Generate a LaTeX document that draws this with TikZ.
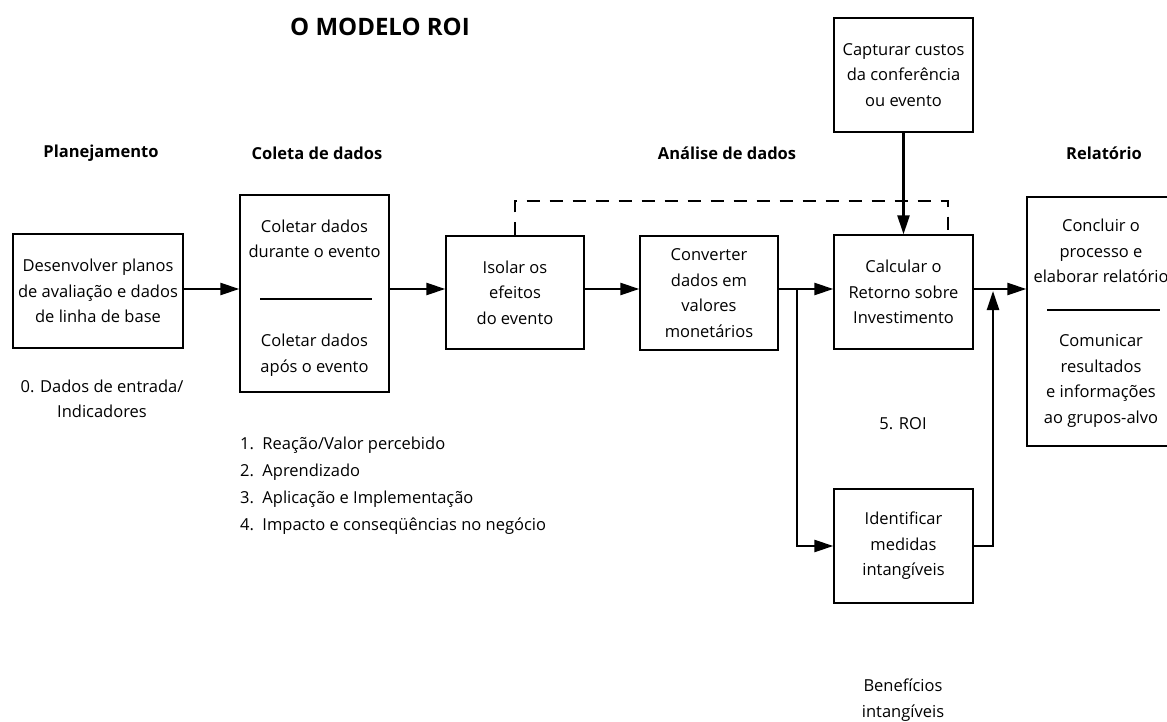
\documentclass[tikz,border=0pt]{standalone}
\usepackage{fontspec}
\setmainfont{Open Sans}
\usetikzlibrary{arrows.meta}
\begin{document}
\begin{tikzpicture}[x=1pt,y=-1pt,
  body/.style={font=\fontsize{16.5}{25.5}\selectfont, align=center, inner sep=0pt},
  hdr/.style={font=\fontsize{16.5}{20}\selectfont\bfseries, inner sep=0pt},
  box/.style={draw, line width=1.3pt, body},
  arr/.style={line width=2.4pt, -{Triangle[length=19pt,width=12pt]}},
  fbline/.style={line width=2.4pt, dash pattern=on 13pt off 10pt},
  rule/.style={line width=1.2pt}]
  \fill[white] (0,0) rectangle (1167,722);
  \useasboundingbox (0,0) rectangle (1167,722);
  \clip (0,0) rectangle (1167,722);

  % title and phase headings
  \node[font=\fontsize{24}{28}\selectfont\bfseries, inner sep=0pt] (title) at (380,27) {O MODELO ROI};
  \node[hdr] (h1) at (101,153) {Planejamento};
  \node[hdr] (h2) at (317,153) {Coleta de dados};
  \node[hdr] (h3) at (727,153) {Análise de dados};
  \node[hdr] (h4) at (1104,153) {Relatório};

  % process boxes
  \node[box, minimum width=170pt, minimum height=114pt] (plan) at (98,291)
    {Desenvolver planos\\de avaliação e dados\\de linha de base};
  \node[box, minimum width=149pt, minimum height=197pt] (coleta) at (314.5,293.5) {};
  \node[body] (c1) at (314.5,239) {Coletar dados\\durante o evento};
  \node[body] (c2) at (314.5,355) {Coletar dados\\após o evento};
  \draw[rule] (260,299) -- (372,299);
  \node[box, minimum width=138pt, minimum height=113pt] (isolar) at (515,292.5)
    {Isolar os\\efeitos\\do evento};
  \node[box, minimum width=138pt, minimum height=114pt] (conv) at (709,293)
    {Converter\\dados em\\valores\\monetários};
  \node[box, minimum width=139pt, minimum height=114pt] (roi) at (903.5,292)
    {Calcular o\\Retorno sobre\\Investimento};
  \node[box, minimum width=139pt, minimum height=114pt] (custos) at (903.5,75)
    {Capturar custos\\da conferência\\ou evento};
  \node[box, minimum width=139pt, minimum height=114pt] (intang) at (903.5,546)
    {Identificar\\medidas\\intangíveis};
  \node[box, minimum width=153pt, minimum height=249pt] (rel) at (1103.5,321.5) {};
  \node[body] (r1) at (1101,251) {Concluir o\\processo e\\elaborar relatório};
  \node[body] (r2) at (1101,381) {Comunicar\\resultados\\e informações\\ao grupos-alvo};
  \draw[rule] (1047,310) -- (1160,310);

  % level labels
  \node[body] (lv0) at (102,399) {0. Dados de entrada/\\Indicadores};
  \node[body, align=left, anchor=west, font=\fontsize{16.5}{27}\selectfont] (lv14) at (240,485.5)
    {\makebox[1.35em][l]{1.}Reação/Valor percebido\\
     \makebox[1.35em][l]{2.}Aprendizado\\
     \makebox[1.35em][l]{3.}Aplicação e Implementação\\
     \makebox[1.35em][l]{4.}Impacto e conseqüências no negócio};
  \node[body] (lv5) at (903,424) {5. ROI};
  \node[body] (ben) at (903,700) {Benefícios\\intangíveis};

  % connectors
  \coordinate (row) at (0,289);
  \draw[arr] (plan.east |- row) -- (coleta.west |- row);
  \draw[arr] (coleta.east |- row) -- (isolar.west |- row);
  \draw[arr] (isolar.east |- row) -- (conv.west |- row);
  \draw[arr] (conv.east |- row) -- (roi.west |- row);
  \draw[arr] (roi.east |- row) -- (rel.west |- row);
  \draw[arr] (custos.south) -- (roi.north);
  \coordinate (split) at (797,289);
  \draw[arr] (split) |- (intang.west);
  \coordinate (rise) at (993,291);
  \draw[arr] (intang.east) -| (rise);
  \coordinate (fb) at (948,201);
  \draw[fbline] (isolar.north) |- (fb) -- (fb |- roi.north);
\end{tikzpicture}
\end{document}
